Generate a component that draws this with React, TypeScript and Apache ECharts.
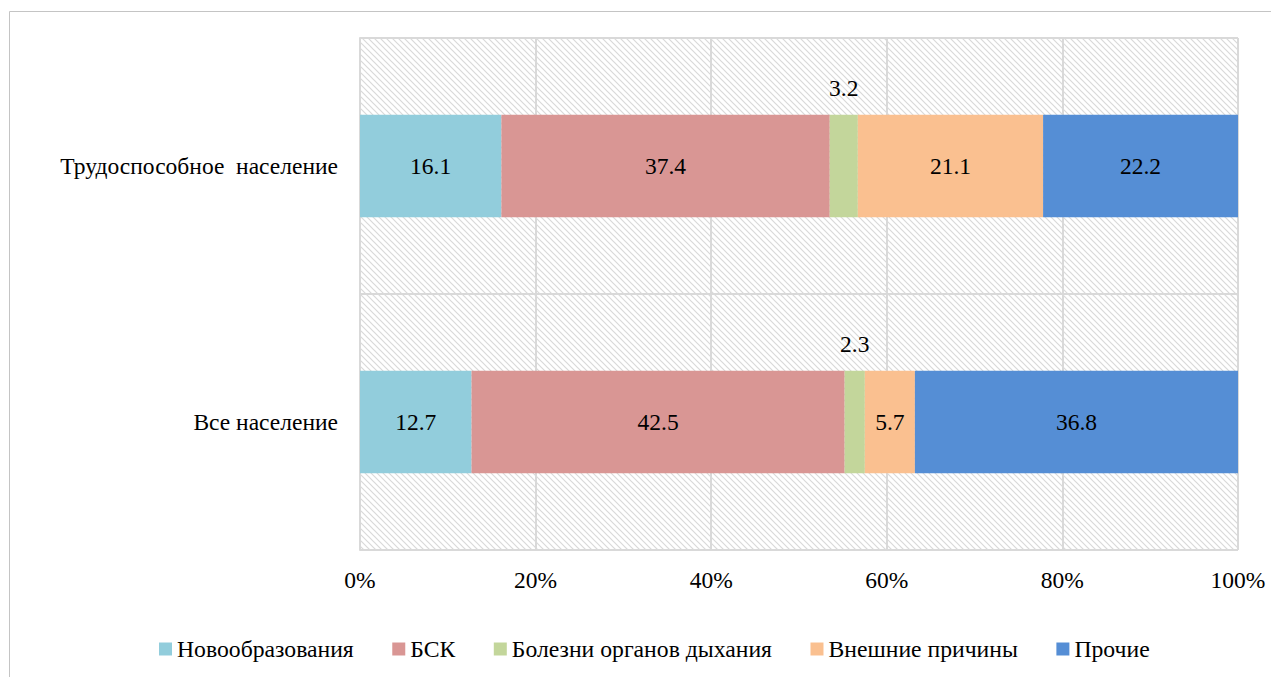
import React, { useEffect, useRef } from "react";
import * as echarts from "echarts";

const categories = ["Трудоспособное  население", "Все население"];
const seriesNames = ["Новообразования", "БСК", "Болезни органов дыхания", "Внешние причины", "Прочие"];
const neoplasms = [16.1, 12.7];
const circulatory = [37.4, 42.5];
const respiratory = [3.2, 2.3];
const external = [21.1, 5.7];
const other = [22.2, 36.8];
const xTicks = [0, 20, 40, 60, 80, 100];
const colors = ["#92CDDC", "#D99694", "#C3D69B", "#FAC090", "#558ED5"];

const FONT = "Liberation Serif";
const FS = 23.5;

export default function App() {
  const ref = useRef<HTMLDivElement>(null);
  useEffect(() => {
    if (!ref.current) return;
    const chart = echarts.init(ref.current, undefined, { renderer: "svg" });

    const tile = document.createElement("canvas");
    tile.width = 6;
    tile.height = 6;
    const ctx = tile.getContext("2d")!;
    ctx.fillStyle = "#ffffff";
    ctx.fillRect(0, 0, 6, 6);
    ctx.strokeStyle = "#d9d9d9";
    ctx.lineWidth = 1.2;
    ctx.beginPath();
    ctx.moveTo(-3, -3);
    ctx.lineTo(9, 9);
    ctx.moveTo(-9, -3);
    ctx.lineTo(3, 9);
    ctx.moveTo(3, -3);
    ctx.lineTo(15, 9);
    ctx.stroke();

    const all = [neoplasms, circulatory, respiratory, external, other];
    const series = all.map((arr, i) => ({
      name: seriesNames[i],
      type: "bar",
      stack: "total",
      barWidth: "40%",
      itemStyle: { color: colors[i] },
      label: {
        show: true,
        position: "inside",
        color: "#000",
        fontFamily: FONT,
        fontSize: FS,
        formatter: (p: any) => String(p.value),
      },
      data: arr.map((v) =>
        i === 2 ? { value: v, label: { position: "top", distance: 15 } } : v
      ),
    }));

    chart.setOption({
      animation: false,
      textStyle: { fontFamily: FONT },
      graphic: [
        {
          type: "rect",
          shape: { x: 1.5, y: 3.5, width: 1400, height: 800 },
          style: { fill: "none", stroke: "#c4c4c4", lineWidth: 1 },
          silent: true,
          z: -10,
        },
      ],
      grid: {
        left: 352,
        right: 41,
        top: 30,
        bottom: 127,
        show: true,
        borderWidth: 0,
        backgroundColor: { image: tile, repeat: "repeat" },
      },
      legend: {
        top: 629,
        left: 151,
        padding: 0,
        itemWidth: 13,
        itemHeight: 13,
        itemGap: 38.5,
        icon: "rect",
        textStyle: { fontFamily: FONT, fontSize: 23.7, color: "#000" },
        data: seriesNames,
      },
      xAxis: {
        type: "value",
        min: xTicks[0],
        max: xTicks[xTicks.length - 1],
        interval: 20,
        axisLine: { show: false },
        axisTick: { show: false },
        splitLine: { show: true, lineStyle: { color: "#d9d9d9", width: 2 } },
        axisLabel: {
          formatter: "{value}%",
          fontFamily: FONT,
          fontSize: FS,
          color: "#000",
          margin: 18,
        },
      },
      yAxis: {
        type: "category",
        inverse: true,
        data: categories,
        axisLine: { show: true, lineStyle: { color: "#d9d9d9", width: 2 } },
        axisTick: { show: false },
        splitLine: { show: true, lineStyle: { color: "#d9d9d9", width: 2 } },
        axisLabel: { fontFamily: FONT, fontSize: FS, color: "#000", margin: 22 },
      },
      series,
    });
    return () => chart.dispose();
  }, []);
  return <div ref={ref} style={{ width: 1271, height: 669 }} />;
}
